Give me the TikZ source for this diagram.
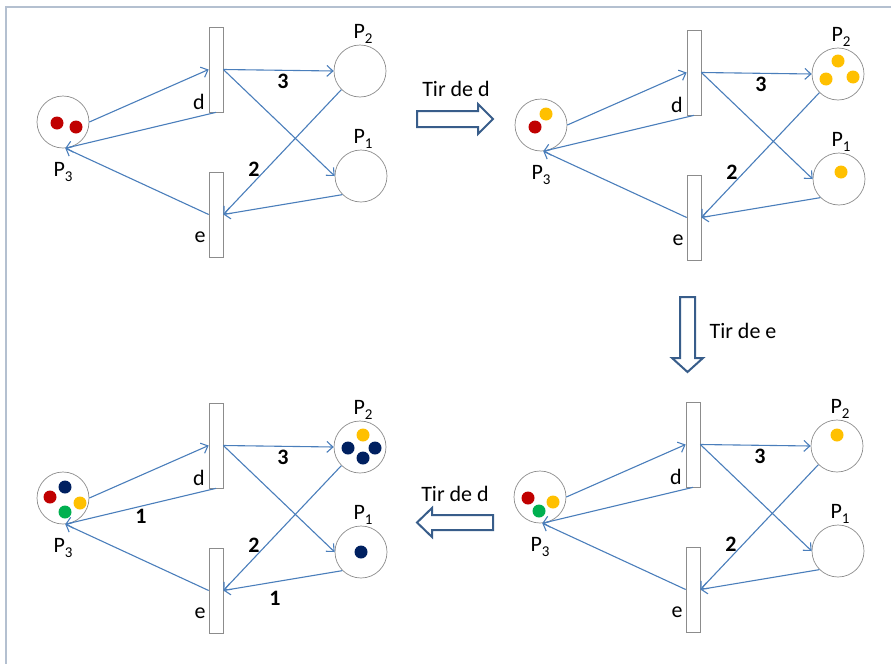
\documentclass[tikz,border=0pt]{standalone}
\usepackage{fontspec}
\setmainfont{Carlito}
\usetikzlibrary{arrows.meta}
\definecolor{arccol}{HTML}{4A7EBB}
\definecolor{blk}{HTML}{385D8A}
\definecolor{framecol}{HTML}{B4C0D0}
\definecolor{tred}{HTML}{C00000}
\definecolor{tyel}{HTML}{FFC000}
\definecolor{tnavy}{HTML}{002060}
\definecolor{tgreen}{HTML}{00B050}
\definecolor{outl}{HTML}{8C8C8C}
\newcommand\Psub[1]{P\raisebox{-0.4ex}{\fontsize{15}{15}\selectfont #1}}
\tikzset{
  place/.style={circle,draw=outl,line width=0.7pt,minimum size=52pt,inner sep=0pt},
  trans/.style={rectangle,draw=outl,line width=0.7pt,fill=white,minimum width=14pt,minimum height=85pt,inner sep=0pt},
  lbl/.style={font=\fontsize{22}{26}\selectfont,inner sep=0pt},
  wt/.style={font=\fontsize{22}{26}\selectfont\bfseries,inner sep=0pt},
  arc/.style={draw=arccol,line width=1.1pt,-{Straight Barb[length=6pt,width=11pt,line width=1.1pt]}},
  blockarrow/.style={draw=blk,line width=2pt,fill=white,line join=miter},
  framestyle/.style={draw=framecol,line width=1.5pt},
  tokn/.style={radius=6.5pt}
}
\newcommand\petri[2]{%
\begin{scope}[shift={#2}]
 \node[place] (#1P3) at (63,122) {};
 \node[place] (#1P2) at (360,71) {};
 \node[place] (#1P1) at (361,176) {};
 \node[trans] (#1d) at (216,69.5) {};
 \node[trans] (#1e) at (216,214.5) {};
 \node[lbl] (#1Ld) at (199,102) {d};
 \node[lbl] (#1Le) at (200,237) {e};
 \node[lbl] (#1LP2) at (363,34) {\Psub{2}};
 \node[lbl] (#1LP1) at (363,139) {\Psub{1}};
 \node[lbl] (#1LP3) at (63,172) {\Psub{3}};
 \node[wt] (#1w3) at (283,81) {3};
 \node[wt] (#1w2) at (254,169) {2};
 \draw[arc] (#1P3.east) -- (#1d.west);
 \draw[arc] (#1d.south) -- (#1P3.-85);
 \draw[arc] (#1e.west) -- (#1P3.-85);
 \draw[arc] (#1d.east) -- (#1P2.west);
 \draw[arc] (#1d.east) -- (#1P1.west);
 \draw[arc] (#1P2.225) -- (#1e.east);
 \draw[arc] (#1P1.225) -- (#1e.east);
\end{scope}}
\begin{document}
\begin{tikzpicture}[x=1pt,y=-1pt]
\useasboundingbox (0,0) rectangle (891,664);
\draw[framestyle] (891,7) -- (6,7) -- (6,664);

% panels
\petri{a}{(0,0)}
\petri{b}{(478,3)}
\petri{c}{(477,375)}
\petri{f}{(0,376)}

% tokens top-left
\fill[tred] (aP3) ++(-6,1) circle[tokn];
\fill[tred] (aP3) ++(13,5) circle[tokn];
% tokens top-right
\fill[tyel] (bP3) ++(5,-11) circle[tokn];
\fill[tred] (bP3) ++(-6,2) circle[tokn];
\fill[tyel] (bP2) ++(0,-13) circle[tokn];
\fill[tyel] (bP2) ++(-12,5) circle[tokn];
\fill[tyel] (bP2) ++(15,3) circle[tokn];
\fill[tyel] (bP1) ++(2,-7) circle[tokn];
% tokens bottom-right
\fill[tred] (cP3) ++(-12,1) circle[tokn];
\fill[tyel] (cP3) ++(13,5) circle[tokn];
\fill[tgreen] (cP3) ++(-1,14) circle[tokn];
\fill[tyel] (cP2) ++(0,-11) circle[tokn];
% tokens bottom-left
\fill[tnavy] (fP3) ++(2,-11) circle[tokn];
\fill[tred] (fP3) ++(-13,-1) circle[tokn];
\fill[tyel] (fP3) ++(17,5) circle[tokn];
\fill[tgreen] (fP3) ++(2,14) circle[tokn];
\fill[tyel] (fP2) ++(3,-12) circle[tokn];
\fill[tnavy] (fP2) ++(-12,1) circle[tokn];
\fill[tnavy] (fP2) ++(15,1) circle[tokn];
\fill[tnavy] (fP2) ++(3,11) circle[tokn];
\fill[tnavy] (fP1) circle[tokn];

% extra weights bottom-left
\node[wt] (fw1a) at (141,516) {1};
\node[wt] (fw1b) at (275,598) {1};

% firing arrows
\draw[blockarrow] (417,111) -- (478,111) -- (478,104) -- (493,119) -- (478,134) -- (478,127) -- (417,127) -- cycle;
\node[lbl] (tir1) at (456,89) {Tir de d};
\draw[blockarrow] (680,297) -- (695,297) -- (695,358) -- (703,358) -- (687.5,372) -- (672,358) -- (680,358) -- cycle;
\node[lbl] (tir2) at (743,331) {Tir de e};
\draw[blockarrow] (493,515) -- (432,515) -- (432,508) -- (417,522.5) -- (432,537) -- (432,530) -- (493,530) -- cycle;
\node[lbl] (tir3) at (455,494) {Tir de d};
\end{tikzpicture}
\end{document}
